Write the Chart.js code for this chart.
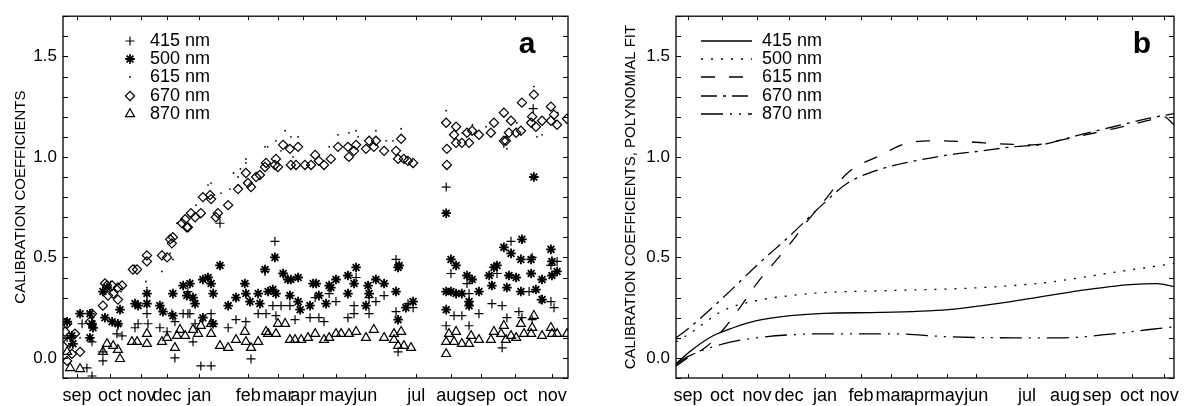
<!DOCTYPE html>
<html>
<head>
<meta charset="utf-8">
<script src="https://cdn.jsdelivr.net/npm/chart.js@4.4.0/dist/chart.umd.min.js"></script>
<style>
  body { margin: 0; background: #fff; width: 1187px; height: 406px; position: relative; overflow: hidden; }
  #chartA { position: absolute; left: 0; top: 0; }
  #chartB { position: absolute; left: 590px; top: 0; }
</style>
</head>
<body>
<canvas id="chartA" width="590" height="406"></canvas>
<canvas id="chartB" width="597" height="406"></canvas>
<script>
// x unit = months after start of september (first year)
const monthNames = ['sep', 'oct', 'nov', 'dec', 'jan', 'feb', 'mar', 'apr', 'may', 'jun', 'jul', 'aug', 'sep', 'oct', 'nov'];
const monthPosA = [0.01, 0.98, 1.89, 2.65, 3.59, 5.03, 5.90, 6.64, 7.61, 8.46, 9.95, 10.98, 11.86, 12.86, 13.94];
const monthPosB = [-0.04, 0.97, 2.01, 2.96, 4.03, 5.10, 5.99, 6.76, 7.65, 8.52, 10.03, 11.16, 12.11, 13.15, 14.11];
const wavelengths = ['415 nm', '500 nm', '615 nm', '670 nm', '870 nm'];

// panel a: measured calibration coefficients [month, value]
const cal415 = [[0.16,0.17],[-0.28,0.10],[0.45,0.08],[0.30,-0.05],[0.45,-0.09],[0.77,-0.015],[0.77,0.03],[1.21,0.16],[1.18,0.12],[1.33,0.11],
  [1.71,0.15],[1.80,0.17],[2.09,0.17],[2.06,0.22],[2.44,0.15],[2.65,0.13],[2.88,0.0],[2.88,0.18],[3.12,0.22],[3.26,0.22],[2.79,0.22],
  [3.26,0.33],[3.32,0.22],[3.47,0.17],[3.41,0.08],[3.64,-0.04],[3.94,-0.04],[3.94,0.22],[4.20,0.67],[4.44,0.15],[4.67,0.19],[4.96,0.18],
  [5.11,-0.005],[5.32,0.22],[5.55,0.22],[5.81,0.58],[5.52,0.43],[5.75,0.26],[5.99,0.26],[6.25,0.26],[6.40,0.19],[5.84,0.21],[6.99,0.30],
  [6.84,0.20],[7.10,0.20],[7.25,0.18],[7.40,0.32],[7.60,0.28],[7.95,0.20],[8.13,0.26],[8.13,0.22],[8.19,0.40],[8.57,0.30],[8.57,0.22],
  [8.77,0.28],[9.01,0.31],[9.36,0.49],[9.36,0.23],[9.42,0.03],[9.71,0.27],[9.86,0.25],
  [10.83,0.85],[10.97,0.42],[11.06,0.21],[11.29,0.21],[10.83,0.16],[11.50,0.16],[11.44,0.37],[11.50,0.32],[11.79,0.22],[12.17,0.27],
  [12.32,0.42],[12.47,0.26],[12.47,0.05],[12.73,0.58],[12.61,0.20],[12.96,0.23],[13.05,0.20],[13.35,0.50],[13.26,0.33],[13.38,1.24],
  [13.35,0.19],[13.61,0.29],[13.90,0.46],[13.90,0.28],[13.99,0.25],[14.08,0.48]];
const cal500 = [[-0.28,0.18],[0.10,0.22],[0.39,0.22],[0.45,0.17],[0.48,0.15],[-0.14,0.11],[-0.11,0.07],[0.39,0.10],[0.83,0.20],[1.04,0.18],
  [1.21,0.17],[0.77,0.33],[0.89,0.35],[1.27,0.24],[1.71,0.27],[1.80,0.26],[2.06,0.32],[2.06,0.27],[2.44,0.26],[2.53,0.23],[2.82,0.21],
  [2.82,0.32],[3.12,0.36],[3.23,0.31],[3.32,0.37],[3.41,0.30],[3.47,0.27],[3.70,0.39],[3.85,0.40],[3.94,0.37],[4.00,0.32],[4.20,0.46],
  [3.70,0.20],[4.00,0.17],[4.44,0.26],[4.67,0.30],[4.93,0.37],[4.96,0.32],[5.08,0.28],[5.32,0.32],[5.37,0.27],[5.52,0.44],[5.61,0.33],
  [5.75,0.34],[5.81,0.50],[5.84,0.32],[6.05,0.42],[6.19,0.39],[6.28,0.39],[6.49,0.40],[6.25,0.31],[6.49,0.28],[6.55,0.24],[6.84,0.26],
  [6.93,0.37],[7.02,0.37],[7.10,0.31],[7.31,0.27],[7.40,0.36],[7.45,0.35],[7.60,0.39],[7.95,0.41],[8.13,0.37],[8.19,0.45],[7.95,0.32],
  [8.48,0.26],[8.54,0.36],[8.57,0.32],[8.77,0.39],[9.01,0.37],[9.36,0.33],[9.42,0.45],[9.45,0.46],[9.42,0.19],[9.65,0.25],[9.86,0.28],
  [10.83,0.72],[10.97,0.49],[11.12,0.46],[10.83,0.33],[10.97,0.33],[11.12,0.32],[11.29,0.32],[10.83,0.24],[11.44,0.41],[11.59,0.39],
  [11.50,0.28],[11.50,0.26],[11.79,0.33],[12.09,0.41],[12.23,0.45],[12.32,0.46],[12.17,0.36],[12.52,0.55],[12.73,0.52],[12.67,0.41],
  [12.88,0.40],[12.61,0.35],[13.02,0.33],[13.05,0.59],[13.02,0.49],[13.32,0.49],[13.32,0.42],[13.46,0.34],[13.64,0.39],[13.90,0.54],
  [13.93,0.48],[13.93,0.41],[14.08,0.43],[13.64,0.29],[13.40,0.90]];
const cal615 = [[-0.2,0.05],[0.1,0.10],[0.5,0.20],[1.0,0.38],[1.3,0.33],[1.7,0.46],[2.06,0.35],[2.50,0.43],[2.74,0.52],[2.82,0.49],
  [2.94,0.67],[2.03,0.38],[3.5,0.76],[3.85,0.86],[3.94,0.87],[4.23,0.82],[4.49,0.84],[4.6,0.92],[4.73,0.90],[4.8,0.94],[4.96,0.99],
  [4.96,0.97],[5.52,1.05],[5.6,1.05],[5.84,1.08],[5.99,1.03],[6.11,1.13],[6.28,1.10],[6.34,1.00],[6.49,1.10],[7.40,1.05],[7.66,1.11],
  [7.98,1.12],[8.19,1.13],[8.25,1.10],[8.77,1.13],[9.07,1.08],[9.27,1.08],[9.51,1.14],[9.65,1.00],
  [10.83,1.23],[11.3,1.12],[11.6,1.16],[12.0,1.15],[12.52,1.05],[12.61,1.04],[12.9,1.17],[13.40,1.35],[13.49,1.10],[13.64,1.11],[14.1,1.22]];
const cal670 = [[-0.28,0.17],[-0.34,0.13],[-0.25,0.08],[-0.05,0.12],[-0.14,0.02],[-0.28,-0.015],[0.10,0.03],[0.45,0.22],[0.39,0.18],
  [0.77,0.26],[0.89,0.36],[0.83,0.37],[1.04,0.36],[1.07,0.32],[1.21,0.35],[1.33,0.36],[1.21,0.29],[0.92,0.31],[1.65,0.44],[1.77,0.44],
  [2.06,0.51],[2.06,0.48],[2.50,0.51],[2.65,0.50],[2.74,0.59],[2.82,0.60],[2.79,0.57],[3.09,0.67],[3.18,0.69],[3.23,0.65],[3.35,0.72],
  [3.47,0.70],[3.64,0.72],[3.26,0.65],[3.70,0.80],[3.91,0.81],[3.94,0.79],[4.14,0.72],[4.08,0.70],[4.44,0.76],[4.73,0.84],[4.96,0.92],
  [5.02,0.87],[5.11,0.85],[5.26,0.90],[5.37,0.91],[5.55,0.97],[5.52,0.95],[5.81,0.96],[5.84,0.99],[5.90,0.95],[6.05,1.06],[6.25,1.04],
  [6.28,0.96],[6.43,0.96],[6.49,1.05],[6.69,0.96],[6.87,0.96],[6.99,1.01],[7.10,0.98],[7.25,0.96],[7.45,0.99],[7.66,1.05],[7.95,1.05],
  [7.98,1.00],[8.19,1.06],[8.13,1.03],[8.48,1.04],[8.57,1.08],[8.77,1.08],[8.71,1.05],[9.01,1.03],[9.36,1.03],[9.51,1.09],[9.42,0.99],
  [9.59,0.99],[9.71,0.98],[9.86,0.97],
  [10.83,1.17],[10.85,1.04],[10.85,0.96],[11.12,1.15],[11.06,1.11],[11.12,1.07],[11.29,1.07],[11.50,1.07],[11.44,1.12],[11.59,1.13],
  [11.79,1.11],[12.14,1.12],[12.23,1.17],[12.52,1.08],[12.58,1.08],[12.52,1.22],[12.73,1.18],[12.67,1.12],[12.88,1.12],[13.05,1.27],
  [13.02,1.13],[13.35,1.20],[13.40,1.31],[13.32,1.17],[13.46,1.15],[13.64,1.18],[13.90,1.25],[13.90,1.18],[13.99,1.21],[14.08,1.16],[14.37,1.19]];
const cal870 = [[-0.19,-0.05],[0.10,-0.055],[-0.28,0.03],[0.77,0.03],[0.89,0.07],[1.07,0.06],[1.21,0.04],[1.27,-0.005],[1.62,0.08],
  [1.77,0.08],[2.06,0.12],[2.06,0.07],[2.50,0.08],[2.65,0.10],[2.88,0.05],[2.94,0.11],[3.18,0.11],[3.03,0.14],[3.41,0.14],[3.64,0.16],
  [3.56,0.12],[3.94,0.12],[3.94,0.17],[4.20,0.06],[4.44,0.05],[4.67,0.09],[4.93,0.13],[4.96,0.08],[5.11,0.05],[5.32,0.08],[5.55,0.13],
  [5.61,0.12],[5.84,0.12],[5.90,0.17],[6.11,0.17],[6.25,0.09],[6.40,0.09],[6.58,0.09],[6.78,0.10],[6.99,0.12],[7.25,0.09],[7.40,0.10],
  [7.60,0.12],[7.75,0.12],[7.98,0.12],[8.19,0.13],[8.48,0.10],[8.71,0.14],[9.01,0.10],[9.30,0.09],[9.51,0.13],[9.42,0.06],[9.59,0.06],
  [9.80,0.05],[9.30,0.12],
  [10.83,0.02],[10.83,0.08],[10.91,0.12],[11.12,0.13],[11.06,0.08],[11.29,0.07],[11.50,0.07],[11.56,0.11],[11.79,0.09],[12.14,0.09],
  [12.23,0.13],[12.52,0.16],[12.44,0.12],[12.58,0.09],[12.73,0.11],[12.88,0.10],[13.02,0.17],[13.11,0.12],[13.32,0.12],[13.40,0.21],
  [13.35,0.15],[13.64,0.11],[13.90,0.15],[13.93,0.12],[14.08,0.12],[14.37,0.12]];

// panel b: polynomial fits [month, value]
const fit415 = [[-0.4,-0.03],[0,0.03],[0.7,0.11],[1.3,0.15],[2,0.185],[3,0.21],[4,0.222],[5.7,0.226],[7.7,0.24],[8.7,0.26],
  [10.1,0.295],[11.6,0.335],[13.1,0.365],[13.9,0.37],[14.4,0.355]];
const fit500 = [[-0.4,0.08],[0,0.12],[1,0.235],[2,0.285],[3,0.31],[4,0.325],[6,0.335],[8.7,0.35],[10.6,0.375],[12.6,0.425],[14.4,0.47]];
const fit615 = [[-0.4,-0.04],[0,0.005],[0.5,0.055],[1,0.14],[1.5,0.25],[2,0.37],[2.5,0.47],[3,0.57],[3.5,0.68],[4,0.78],[4.7,0.92],
  [5.7,1.01],[6.4,1.065],[7.4,1.08],[8.3,1.075],[9.2,1.065],[10.2,1.06],[11.2,1.09],[12.6,1.14],[13.6,1.18],[14.1,1.20],[14.4,1.16]];
const fit670 = [[-0.4,0.10],[0,0.15],[1,0.30],[2,0.46],[3,0.61],[4,0.77],[4.7,0.87],[5.7,0.94],[6.7,0.98],[7.7,1.01],[8.7,1.03],
  [9.6,1.05],[10.6,1.065],[11.6,1.11],[12.6,1.15],[13.6,1.19],[14.4,1.215]];
const fit870 = [[-0.4,-0.03],[0,0.01],[1,0.07],[2,0.10],[3,0.115],[4,0.12],[6,0.12],[7.7,0.105],[9.6,0.10],[11.1,0.10],[12.6,0.12],
  [13.6,0.14],[14.4,0.155]];

const FONT = '"Liberation Sans", Arial, Helvetica, sans-serif';
Chart.defaults.font.family = FONT;
Chart.defaults.color = '#000';

const toXY = arr => arr.map(p => ({x: p[0], y: p[1]}));
const legendRows = [41, 59, 77, 96, 114];

// frame, inward tick marks and panel letter
const framePlugin = {
    id: 'frame',
    afterDatasetsDraw(chart, args, opts) {
        const {ctx, chartArea: a, scales} = chart;
        ctx.save();
        ctx.strokeStyle = '#000';
        ctx.lineWidth = 1.3;
        ctx.setLineDash([]);
        ctx.strokeRect(a.left, a.top, a.right - a.left, a.bottom - a.top);
        ctx.lineWidth = 1;
        ctx.beginPath();
        scales.y.ticks.forEach(t => {
            const py = Math.round(scales.y.getPixelForValue(t.value)) + 0.5;
            ctx.moveTo(a.left, py); ctx.lineTo(a.left + 5, py);
            ctx.moveTo(a.right, py); ctx.lineTo(a.right - 5, py);
        });
        scales.x.ticks.forEach(t => {
            const px = Math.round(scales.x.getPixelForValue(t.value)) + 0.5;
            ctx.moveTo(px, a.bottom); ctx.lineTo(px, a.bottom - 4);
            ctx.moveTo(px, a.top); ctx.lineTo(px, a.top + 4);
        });
        ctx.stroke();
        ctx.fillStyle = '#000';
        ctx.font = 'bold 30px ' + FONT;
        ctx.textAlign = 'center';
        ctx.textBaseline = 'alphabetic';
        ctx.fillText(opts.letter, a.right - opts.letterDx, 53);
        ctx.restore();
    }
};

// legend drawn inside the plot area
const keyPlugin = {
    id: 'key',
    afterDraw(chart, args, opts) {
        const ctx = chart.ctx;
        ctx.save();
        ctx.font = '18px ' + FONT;
        ctx.textAlign = 'left';
        ctx.textBaseline = 'middle';
        chart.data.datasets.forEach((ds, i) => {
            const y = legendRows[i];
            ctx.strokeStyle = '#000';
            ctx.fillStyle = ds.backgroundColor || '#000';
            if (opts.lines) {
                ctx.lineWidth = ds.borderWidth;
                ctx.setLineDash(ds.borderDash || []);
                ctx.beginPath();
                ctx.moveTo(opts.x0, y); ctx.lineTo(opts.x1, y);
                ctx.stroke();
                ctx.setLineDash([]);
            } else {
                ctx.lineWidth = ds.borderWidth;
                Chart.helpers.drawPoint(ctx, {pointStyle: ds.pointStyle, radius: ds.pointRadius, borderWidth: ds.borderWidth, rotation: 0}, opts.x0, y);
            }
            ctx.fillStyle = '#000';
            ctx.fillText(ds.label, opts.textX, y);
        });
        ctx.restore();
    }
};

function makeScales(monthPos, yWidth, titleText, titlePad) {
    return {
        x: {
            type: 'linear', position: 'bottom', min: -0.4, max: 14.4, bounds: 'data',
            grid: {display: false, drawTicks: false}, border: {display: false},
            afterBuildTicks: s => { s.ticks = monthPos.map(v => ({value: v})); },
            afterFit: s => { s.height = 28; },
            ticks: {autoSkip: false, maxRotation: 0, padding: 7, font: {size: 18},
                callback: (v, i) => monthNames[i]}
        },
        y: {
            type: 'linear', position: 'left', min: -0.1, max: 1.7,
            grid: {display: false, drawTicks: false}, border: {display: false},
            afterFit: s => { s.width = yWidth; },
            ticks: {stepSize: 0.1, autoSkip: false, padding: 6, font: {size: 17},
                callback: v => { const k = Math.round(v * 10); return k % 5 === 0 ? (k / 10).toFixed(1) : ''; }},
            title: {display: true, text: titleText, font: {size: 15}, padding: {top: titlePad, bottom: 0}}
        }
    };
}

// panel a: scatter of coefficients
const markerStyle = [
    {pointStyle: 'cross', pointRadius: 4.5, borderWidth: 1.2},
    {pointStyle: 'star', pointRadius: 4.8, borderWidth: 1.8},
    {pointStyle: 'circle', pointRadius: 0.9, borderWidth: 0},
    {pointStyle: 'rectRot', pointRadius: 4.6, borderWidth: 1.2},
    {pointStyle: 'triangle', pointRadius: 5.2, borderWidth: 1.2}
];
const calSeries = [cal415, cal500, cal615, cal670, cal870];
let chartA = new Chart(document.getElementById('chartA'), {
    type: 'scatter',
    data: {
        datasets: calSeries.map((s, i) => ({
            label: wavelengths[i],
            data: toXY(s),
            pointStyle: markerStyle[i].pointStyle,
            pointRadius: markerStyle[i].pointRadius,
            borderWidth: markerStyle[i].borderWidth,
            borderColor: '#000',
            backgroundColor: i === 2 ? '#000' : 'rgba(0,0,0,0)'
        }))
    },
    options: {
        responsive: false, animation: false, events: [],
        layout: {padding: {top: 12, right: 22, left: 0, bottom: 0}},
        plugins: {legend: {display: false}, tooltip: {enabled: false},
            frame: {letter: 'a', letterDx: 41},
            key: {lines: false, x0: 130, textX: 150}},
        scales: makeScales(monthPosA, 63, 'CALIBRATION COEFFICIENTS', 12)
    },
    plugins: [framePlugin, keyPlugin]
});

// panel b: polynomial fits
const fitSeries = [fit415, fit500, fit615, fit670, fit870];
const fitDash = [[], [2, 8], [14, 14], [16, 6, 3, 6], [22, 7, 2, 7, 2, 7]];
let chartB = new Chart(document.getElementById('chartB'), {
    type: 'line',
    data: {
        datasets: fitSeries.map((s, i) => ({
            label: wavelengths[i],
            data: toXY(s),
            borderColor: '#000',
            backgroundColor: '#000',
            borderWidth: 1.3,
            borderDash: fitDash[i],
            pointRadius: 0,
            fill: false,
            cubicInterpolationMode: 'monotone'
        }))
    },
    options: {
        responsive: false, animation: false, events: [],
        layout: {padding: {top: 12, right: 13, left: 0, bottom: 0}},
        plugins: {legend: {display: false}, tooltip: {enabled: false},
            frame: {letter: 'b', letterDx: 32},
            key: {lines: true, x0: 111, x1: 162, textX: 172}},
        scales: makeScales(monthPosB, 86, 'CALIBRATION COEFFICIENTS, POLYNOMIAL FIT', 32)
    },
    plugins: [framePlugin, keyPlugin]
});
</script>
</body>
</html>
